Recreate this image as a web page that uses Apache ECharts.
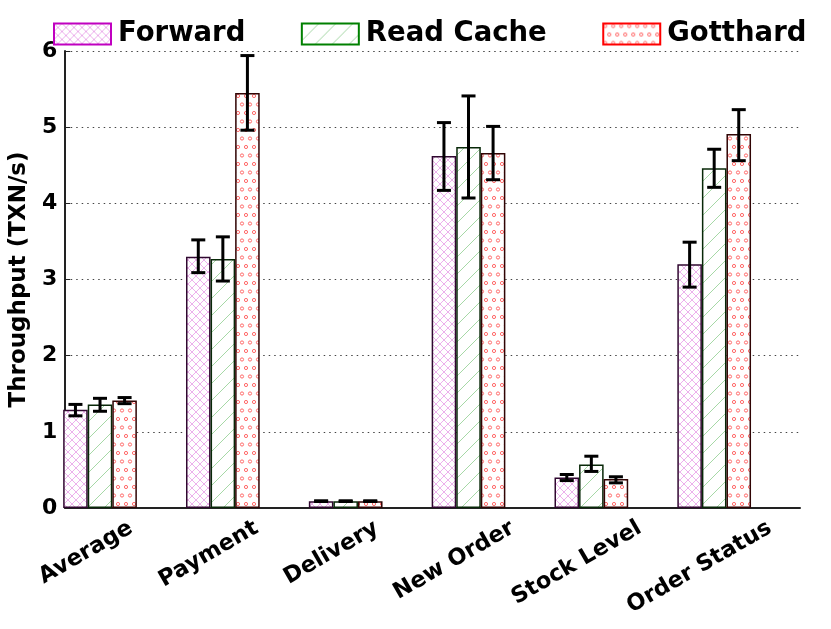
<!DOCTYPE html>
<html>
<head>
<meta charset="utf-8">
<script src="https://cdn.jsdelivr.net/npm/echarts@6/dist/echarts.min.js"></script>
<style>html,body{margin:0;padding:0;background:#fff;}#c{width:831px;height:629px;}</style>
</head>
<body>
<div id="c"></div>
<script>
const categories = ['Average', 'Payment', 'Delivery', 'New Order', 'Stock Level', 'Order Status'];
const seriesNames = ['Forward', 'Read Cache', 'Gotthard'];
const forwardValues    = [1.29, 3.30, 0.09, 4.62, 0.40, 3.20];
const forwardErrLow    = [1.21, 3.09, 0.085, 4.17, 0.36, 2.90];
const forwardErrHigh   = [1.36, 3.52, 0.095, 5.06, 0.44, 3.49];
const readCacheValues  = [1.36, 3.27, 0.09, 4.74, 0.57, 4.46];
const readCacheErrLow  = [1.27, 2.98, 0.085, 4.07, 0.48, 4.21];
const readCacheErrHigh = [1.44, 3.56, 0.095, 5.41, 0.68, 4.71];
const gotthardValues   = [1.41, 5.45, 0.09, 4.66, 0.38, 4.91];
const gotthardErrLow   = [1.37, 4.96, 0.085, 4.31, 0.33, 4.56];
const gotthardErrHigh  = [1.45, 5.94, 0.095, 5.01, 0.41, 5.23];
const yMin = 0, yMax = 6, yInterval = 1;

const FONT = 'DejaVu Sans';
const LABEL_SIZE = 22.5;

function tile(w, h, draw) {
  const c = document.createElement('canvas');
  c.width = w; c.height = h;
  const g = c.getContext('2d');
  g.fillStyle = '#fff';
  g.fillRect(0, 0, w, h);
  draw(g, w, h);
  return { image: c, repeat: 'repeat' };
}
const crossPattern = tile(8, 8, function (g, w, h) {
  g.strokeStyle = '#eaa8ea'; g.lineWidth = 0.9;
  for (let d = -1; d <= 1; d++) {
    g.beginPath(); g.moveTo(d * w, 0); g.lineTo(d * w + w, h); g.stroke();
    g.beginPath(); g.moveTo(d * w, h); g.lineTo(d * w + w, 0); g.stroke();
  }
});
const slashPattern = tile(17, 17, function (g, w, h) {
  g.strokeStyle = '#a6d8a6'; g.lineWidth = 1;
  for (let d = -1; d <= 1; d++) {
    g.beginPath(); g.moveTo(d * w, h); g.lineTo(d * w + w, 0); g.stroke();
  }
});
const circlePattern = tile(8, 17, function (g, w, h) {
  g.strokeStyle = '#ff6a6a'; g.lineWidth = 1;
  const pts = [[2, 2.5], [6, 11], [-2, 11], [10, 2.5], [2, 19.5], [10, 19.5]];
  pts.forEach(function (p) {
    g.beginPath(); g.arc(p[0], p[1], 1.6, 0, Math.PI * 2); g.stroke();
  });
});

const patterns = [crossPattern, slashPattern, circlePattern];
const edgeColors = ['#300830', '#082808', '#300404'];
const legendBorders = ['#c000c0', '#008000', '#ff0000'];
const valueSets = [forwardValues, readCacheValues, gotthardValues];
const lowSets = [forwardErrLow, readCacheErrLow, gotthardErrLow];
const highSets = [forwardErrHigh, readCacheErrHigh, gotthardErrHigh];

// Rotated tick labels: emulate a label whose rotated bounding box is centred on the tick
function labelItems() {
  const ctx = document.createElement('canvas').getContext('2d');
  ctx.font = 'bold ' + LABEL_SIZE + 'px "' + FONT + '"';
  const c30 = Math.cos(Math.PI / 6), s30 = Math.sin(Math.PI / 6);
  return categories.map(function (name) {
    const w = ctx.measureText(name).width;
    const sx = -0.95, sy = 18.6 + 0.25 * w;
    const a = c30 * sx - s30 * sy;
    const b = s30 * sx + c30 * sy;
    const pr = Math.max(0, -2 * a), pl = Math.max(0, 2 * a);
    const pt = Math.max(0, b - LABEL_SIZE / 2);
    return { value: name, textStyle: {
      align: 'center', verticalAlign: 'top', lineHeight: LABEL_SIZE,
      padding: [pt, pr, 0, pl] } };
  });
}

function errRender(k) {
  return function (params, api) {
    const bw = api.size([1, 0])[0];
    const off = (k - 1) * bw * 0.2;
    const top = api.coord([api.value(0), api.value(2)]);
    const bot = api.coord([api.value(0), api.value(1)]);
    const x = top[0] + off;
    const cw = 7;
    const st = { stroke: '#000', lineWidth: 3 };
    return {
      type: 'group',
      children: [
        { type: 'line', shape: { x1: x, y1: top[1], x2: x, y2: bot[1] }, style: st },
        { type: 'line', shape: { x1: x - cw, y1: top[1], x2: x + cw, y2: top[1] }, style: st },
        { type: 'line', shape: { x1: x - cw, y1: bot[1], x2: x + cw, y2: bot[1] }, style: st }
      ]
    };
  };
}

const series = [];
seriesNames.forEach(function (name, k) {
  series.push({
    name: name,
    type: 'bar',
    xAxisIndex: 1, yAxisIndex: 1,
    data: valueSets[k],
    barWidth: '20%',
    barGap: '0%',
    itemStyle: { color: patterns[k], borderColor: edgeColors[k], borderWidth: 1.5 },
    z: 2
  });
});
seriesNames.forEach(function (name, k) {
  series.push({
    name: name + ' err',
    type: 'custom',
    xAxisIndex: 1, yAxisIndex: 1,
    data: categories.map(function (c, i) { return [i, lowSets[k][i], highSets[k][i]]; }),
    encode: { x: 0, y: [1, 2] },
    renderItem: errRender(k),
    z: 5
  });
});

const chart = echarts.init(document.getElementById('c'), null, { renderer: 'canvas' });
chart.setOption({
  animation: false,
  backgroundColor: '#fff',
  legend: {
    left: 53, top: 20, padding: 0,
    itemWidth: 57, itemHeight: 21, itemGap: 55.5,
    icon: 'rect',
    textStyle: { fontFamily: FONT, fontWeight: 'bold', fontSize: 27.5, color: '#000', padding: [0, 0, 0, 2] },
    data: seriesNames.map(function (n, k) {
      return { name: n, itemStyle: { borderColor: legendBorders[k], borderWidth: 2 } };
    })
  },
  grid: [
    { left: 63, right: 31, top: 51, bottom: 121 },
    { left: 38.6, width: 737, top: 51, bottom: 121 },
    { left: 25.6, width: 737, top: 51, bottom: 121 }
  ],
  xAxis: [
    { gridIndex: 0, type: 'category', data: categories,
      axisLine: { show: true, lineStyle: { color: '#222', width: 2 } },
      axisTick: { show: false }, axisLabel: { show: false }, splitLine: { show: false } },
    { gridIndex: 1, type: 'category', data: categories,
      axisLine: { show: false }, axisTick: { show: false }, axisLabel: { show: false }, splitLine: { show: false } },
    { gridIndex: 2, type: 'category', data: labelItems(),
      axisLine: { show: false }, axisTick: { show: false }, splitLine: { show: false },
      axisLabel: { show: true, rotate: 30, margin: 0, interval: 0, align: 'center', verticalAlign: 'top',
        lineHeight: LABEL_SIZE, hideOverlap: false,
        fontFamily: FONT, fontWeight: 'bold', fontSize: LABEL_SIZE, color: '#000' } }
  ],
  yAxis: [
    { gridIndex: 0, type: 'value', min: yMin, max: yMax, interval: yInterval,
      name: 'Throughput (TXN/s)', nameLocation: 'middle', nameGap: 30,
      nameTextStyle: { fontFamily: FONT, fontWeight: 'bold', fontSize: 23, color: '#000' },
      axisLine: { show: true, lineStyle: { color: '#222', width: 2 } },
      axisTick: { show: true, inside: true, length: 5, lineStyle: { color: '#222', width: 1 } },
      axisLabel: { margin: 8, fontFamily: FONT, fontWeight: 'bold', fontSize: 22, color: '#000' },
      splitLine: { show: true, lineStyle: { color: '#444', width: 1, type: [1.5, 4] } } },
    { gridIndex: 1, type: 'value', min: yMin, max: yMax, interval: yInterval,
      axisLine: { show: false }, axisTick: { show: false }, axisLabel: { show: false }, splitLine: { show: false } },
    { gridIndex: 2, type: 'value', min: yMin, max: yMax, interval: yInterval,
      axisLine: { show: false }, axisTick: { show: false }, axisLabel: { show: false }, splitLine: { show: false } }
  ],
  series: series
});
</script>
</body>
</html>
